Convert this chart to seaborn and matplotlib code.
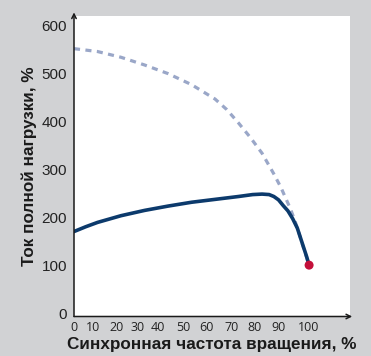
import matplotlib
matplotlib.use("Agg")
import matplotlib.pyplot as plt
import seaborn as sns
import pandas as pd

# ---- data ----
speed_solid = [0, 5, 10, 20, 30, 40, 50, 60, 70, 76, 80, 83, 85, 87, 89, 91, 93, 95, 97, 99, 100]
current_solid = [170, 180, 189, 203, 214, 223, 231, 237, 243, 247, 248, 247, 243, 236, 224, 213, 197, 177, 147, 117, 100]

speed_dashed = [0, 10, 20, 30, 40, 50, 60, 65, 70, 75, 80, 85, 88, 90, 92, 94, 96, 98, 100]
current_dashed = [551, 545, 533, 517, 499, 476, 446, 424, 396, 366, 333, 290, 262, 240, 218, 192, 162, 130, 100]

end_speed = [100]
end_current = [100]

x_tick_labels = ["0", "10", "20", "30", "40", "50", "60", "70", "80", "90", "100"]
x_tick_pos = [0, 8.3, 18.1, 27.2, 35.5, 46.6, 56.4, 67.0, 76.8, 87.0, 100]
y_ticks = [0, 100, 200, 300, 400, 500, 600]

xlabel = "Синхронная частота вращения, %"
ylabel = "Ток полной нагрузки, %"

# ---- style ----
sns.set_style("white")
plt.rcParams["font.family"] = ["Liberation Sans", "DejaVu Sans"]

BG = "#d1d2d4"
NAVY = "#0c3a6c"
DASH = "#9aa7c8"
RED = "#c4103a"

fig = plt.figure(figsize=(3.71, 3.56), dpi=100, facecolor=BG)
ax = fig.add_axes([74 / 371, 1 - 316.5 / 356, 276 / 371, 300.5 / 356])
ax.set_facecolor("white")

df_d = pd.DataFrame({"x": speed_dashed, "y": current_dashed})
df_s = pd.DataFrame({"x": speed_solid, "y": current_solid})
df_e = pd.DataFrame({"x": end_speed, "y": end_current})

sns.lineplot(data=df_d, x="x", y="y", ax=ax, color=DASH, linewidth=2.3,
             dashes=False, sort=False, estimator=None, zorder=2)
ax.lines[-1].set_dashes((1.9, 1.7))
sns.lineplot(data=df_s, x="x", y="y", ax=ax, color=NAVY, linewidth=2.6,
             sort=False, estimator=None, zorder=3)
ax.lines[-1].set_solid_capstyle("round")
sns.scatterplot(data=df_e, x="x", y="y", ax=ax, color=RED, s=42,
                edgecolor="none", zorder=4)

ax.set_xlim(0, 117.4)
ax.set_ylim(-7, 619)

ax.set_yticks(y_ticks)
ax.set_yticklabels([str(v) for v in y_ticks], fontsize=11, color="#222222")
ax.set_xticks(x_tick_pos)
ax.set_xticklabels(x_tick_labels, fontsize=9, color="#222222", family=["Open Sans", "DejaVu Sans"])
ax.tick_params(axis="y", length=0, pad=5)
ax.tick_params(axis="x", length=0, pad=3)

for s in ["top", "right", "left", "bottom"]:
    ax.spines[s].set_visible(False)

arrow_kw = dict(arrowstyle="->", lw=1.1, color="#1a1a1a", mutation_scale=8,
                shrinkA=0, shrinkB=0)
ax.annotate("", xy=(0, 1.012), xytext=(0, 0), xycoords="axes fraction",
            textcoords="axes fraction", arrowprops=arrow_kw, annotation_clip=False)
ax.annotate("", xy=(1.008, 0), xytext=(0, 0), xycoords="axes fraction",
            textcoords="axes fraction", arrowprops=arrow_kw, annotation_clip=False)

ax.set_xlabel(xlabel, fontsize=12.3, fontweight="bold", color="#1a1a1a", va="center")
ax.xaxis.set_label_coords(0.5, (316.5 - 345) / 300.5)
ax.set_ylabel(ylabel, fontsize=12.3, fontweight="bold", color="#1a1a1a", va="center")
ax.yaxis.set_label_coords((29 - 74) / 276, 0.5)

fig.savefig("out.png", dpi=100, facecolor=BG)
